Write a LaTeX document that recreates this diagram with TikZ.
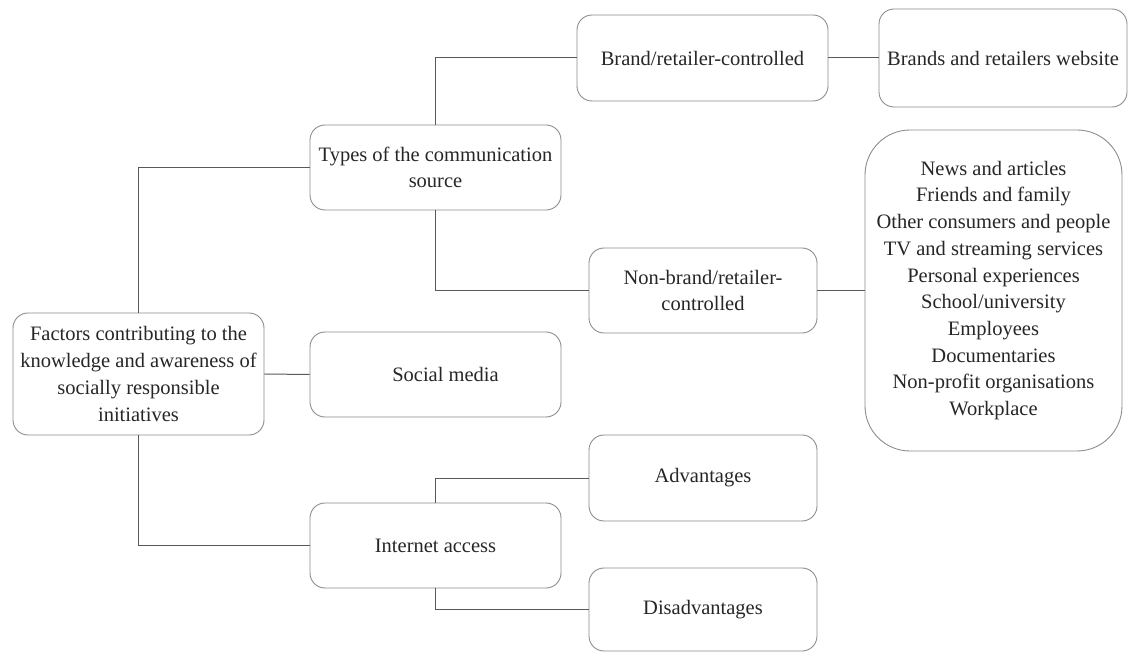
\documentclass[tikz,border=0pt]{standalone}
\usepackage{fontspec}
\setmainfont{Liberation Serif}
\begin{document}
\begin{tikzpicture}[x=1pt,y=-1pt,
  box/.style={draw=black!45, line width=0.9pt, rounded corners=15pt, align=center,
    font=\fontsize{20.5}{26.7}\selectfont, text=black!85, inner sep=0pt},
  link/.style={draw=black!65, line width=1pt}]
\useasboundingbox (0,0) rectangle (1128,652);
% boxes
\node[box, minimum width=251pt, minimum height=122pt] (root) at (138.5,374)
  {Factors contributing to the\\knowledge and awareness of\\socially responsible\\initiatives};
\node[box, minimum width=251pt, minimum height=85pt] (types) at (435.5,167.5)
  {Types of the communication\\source};
\node[box, minimum width=251pt, minimum height=86pt] (brand) at (702.5,58)
  {Brand/retailer-controlled};
\node[box, minimum width=248pt, minimum height=98pt] (web) at (1003,58)
  {Brands and retailers website};
\node[box, minimum width=228pt, minimum height=85pt] (nonbrand) at (703,290.5)
  {Non-brand/retailer-\\controlled};
\node[box, rounded corners=45pt, minimum width=257pt, minimum height=321pt] (list) at (993.5,290.5)
  {News and articles\\Friends and family\\Other consumers and people\\TV and streaming services\\Personal experiences\\School/university\\Employees\\Documentaries\\Non-profit organisations\\Workplace};
\node[box, minimum width=251pt, minimum height=85pt] (social) at (435.5,374.5)
  {\hspace*{20pt}Social media};
\node[box, minimum width=228pt, minimum height=86pt] (adv) at (703,478)
  {Advantages};
\node[box, minimum width=251pt, minimum height=85pt] (inet) at (435.5,545.5)
  {Internet access};
\node[box, minimum width=228pt, minimum height=83pt] (dis) at (703,609.5)
  {Disadvantages};
% connectors
\draw[link] (root.north) |- (types.west);
\draw[link] (root.east) -- (social.west);
\draw[link] (root.south) |- (inet.west);
\draw[link] (types.north) |- (brand.west);
\draw[link] (types.south) |- (nonbrand.west);
\draw[link] (brand.east) -- (web.west);
\draw[link] (nonbrand.east) -- (list.west);
\draw[link] (inet.north) |- (adv.west);
\draw[link] (inet.south) |- (dis.west);
\end{tikzpicture}
\end{document}
